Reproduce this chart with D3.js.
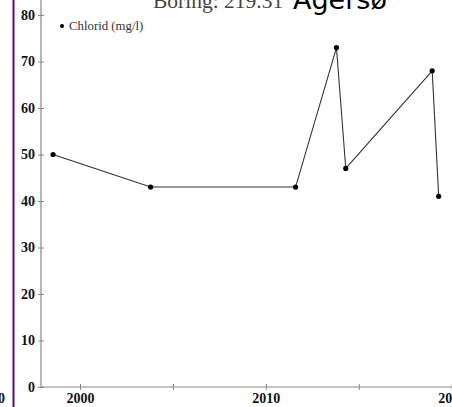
<!DOCTYPE html>
<html><head><meta charset="utf-8">
<script src="https://cdn.jsdelivr.net/npm/d3@7"></script>
<style>body{margin:0;background:#fff}svg{display:block}</style>
</head><body>
<script>
const years = [1998.55, 2003.8, 2011.6, 2013.8, 2014.3, 2018.95, 2019.3];
const chlorid = [50, 43, 43, 73, 47, 68, 41];
const yTicks = [0, 10, 20, 30, 40, 50, 60, 70, 80];
const xTicks = [2000, 2005, 2010, 2015, 2020];
const xTickLabels = ["2000", "", "2010", "", "2020"];
const seriesName = "Chlorid (mg/l)";
const titleA = "Boring: 219.31";
const titleB = "Agersø";

const W = 452, H = 407;
const svg = d3.select("body").append("svg").attr("width", W).attr("height", H);

const x = d3.scaleLinear().domain([2000, 2020]).range([80, 451.7]);
const y = d3.scaleLinear().domain([0, 80]).range([387, 15]);
const axisX = 41, axisY = 387;

// purple separator
svg.append("line").attr("x1", 13.5).attr("x2", 13.5).attr("y1", 0).attr("y2", H)
  .attr("stroke", "#4a1577").attr("stroke-width", 2);
// cropped label from neighbouring chart
svg.append("text").attr("x", 5).attr("y", 403).attr("text-anchor", "end")
  .attr("font-family", "Liberation Serif").attr("font-weight", "bold").attr("font-size", 14)
  .attr("fill", "#111").text("2020");

// axes
const yAxis = d3.axisLeft(y).tickValues(yTicks).tickSize(0).tickPadding(6);
const gy = svg.append("g").attr("transform", `translate(${axisX},0)`).call(yAxis);
gy.select(".domain").remove();
gy.selectAll(".tick line").attr("x1", -3).attr("x2", 3).attr("stroke", "#888");
gy.selectAll("text").attr("font-family", "Liberation Serif").attr("font-weight", "bold")
  .attr("font-size", 14).attr("fill", "#111");
svg.append("line").attr("x1", axisX).attr("x2", axisX).attr("y1", 0).attr("y2", axisY)
  .attr("stroke", "#888").attr("stroke-width", 1.2);

const xAxis = d3.axisBottom(x).tickValues(xTicks).tickFormat((d, i) => xTickLabels[i]).tickSize(0).tickPadding(6);
const gx = svg.append("g").attr("transform", `translate(0,${axisY})`).call(xAxis);
gx.select(".domain").remove();
gx.selectAll(".tick line").attr("y1", -3).attr("y2", 3).attr("stroke", "#888");
gx.selectAll("text").attr("font-family", "Liberation Serif").attr("font-weight", "bold")
  .attr("font-size", 14).attr("fill", "#111");
svg.append("line").attr("x1", axisX).attr("x2", W).attr("y1", axisY).attr("y2", axisY)
  .attr("stroke", "#888").attr("stroke-width", 1.2);

// series
const data = years.map((d, i) => ({x: d, y: chlorid[i]}));
svg.append("path").datum(data)
  .attr("d", d3.line().x(d => x(d.x)).y(d => y(d.y)))
  .attr("fill", "none").attr("stroke", "#333").attr("stroke-width", 1.1);
svg.selectAll("circle.pt").data(data).enter().append("circle").attr("class", "pt")
  .attr("cx", d => x(d.x)).attr("cy", d => y(d.y)).attr("r", 2.6).attr("fill", "#000");

// legend
svg.append("circle").attr("cx", 62).attr("cy", 26).attr("r", 2).attr("fill", "#000");
svg.append("text").attr("x", 69).attr("y", 30).attr("font-family", "Liberation Serif")
  .attr("font-size", 12.8).attr("fill", "#333").text(seriesName);

// title
svg.append("text").attr("x", 153).attr("y", 8).attr("font-family", "Liberation Serif")
  .attr("font-size", 21.5).attr("fill", "#444").text(titleA);
svg.append("text").attr("x", 293).attr("y", 9).attr("font-family", "DejaVu Sans")
  .attr("font-size", 27).attr("fill", "#000").text(titleB);
</script>
</body></html>
